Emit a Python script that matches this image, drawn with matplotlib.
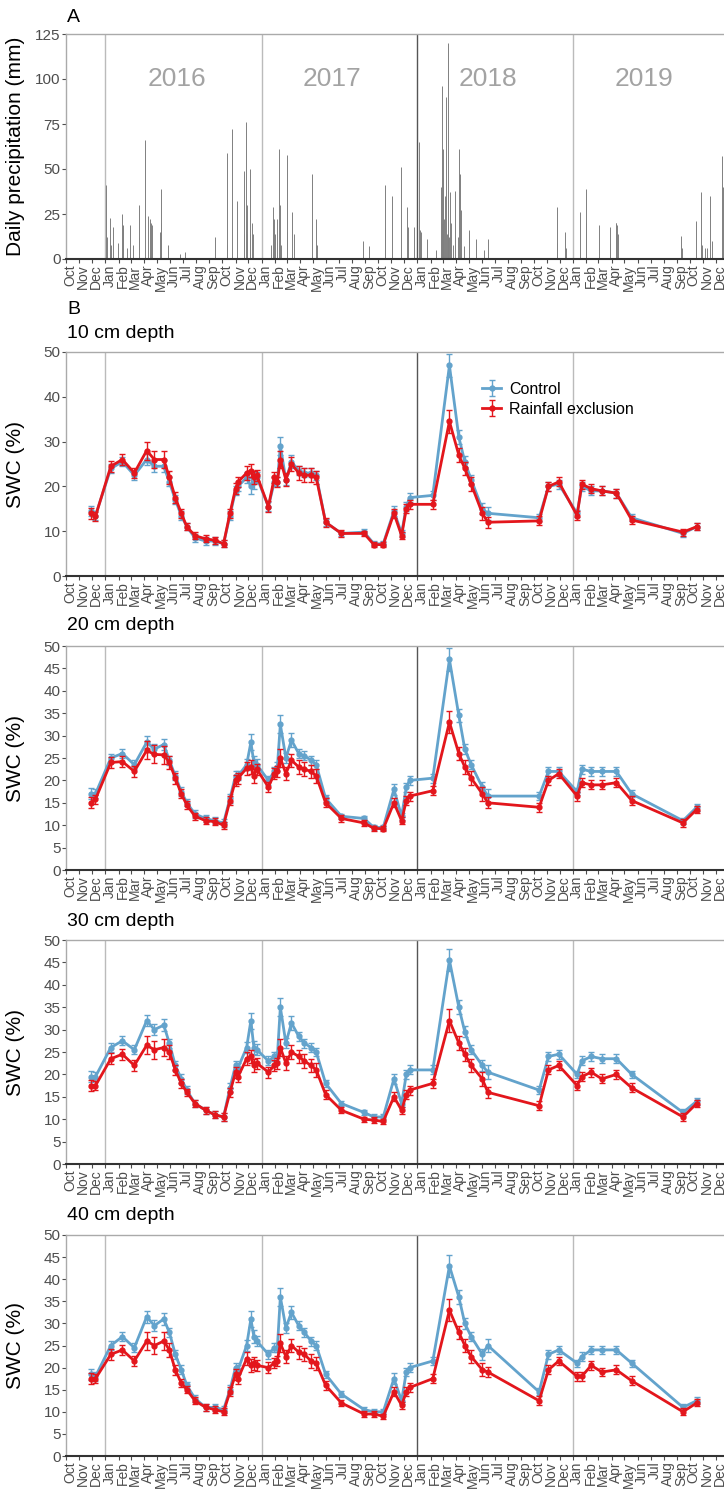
import matplotlib
matplotlib.use("Agg")
import matplotlib.pyplot as plt
import matplotlib.dates as mdates
import matplotlib.transforms as mtransforms
import pandas as pd

plt.rcParams['font.family'] = ['Liberation Sans', 'DejaVu Sans']

# daily precipitation (mm), only rain days
rain_dates = ["2016-01-02", "2016-01-04", "2016-01-11", "2016-01-14", "2016-01-20", "2016-01-30",
              "2016-02-10", "2016-02-11", "2016-02-12", "2016-02-20", "2016-02-27", "2016-03-06",
              "2016-03-19", "2016-03-20", "2016-04-03", "2016-04-11", "2016-04-14", "2016-04-18",
              "2016-04-20", "2016-05-08", "2016-05-10", "2016-05-11", "2016-05-28", "2016-06-25",
              "2016-07-05", "2016-09-13", "2016-10-12", "2016-10-13", "2016-10-24", "2016-11-04",
              "2016-11-20", "2016-11-22", "2016-11-25", "2016-11-27", "2016-11-29", "2016-12-04",
              "2016-12-05", "2016-12-10", "2016-12-12", "2017-01-22", "2017-01-27", "2017-01-31",
              "2017-02-02", "2017-02-07", "2017-02-12", "2017-02-13", "2017-02-16", "2017-03-01",
              "2017-03-02", "2017-03-14", "2017-03-18", "2017-04-28", "2017-05-09", "2017-05-10",
              "2017-08-27", "2017-09-10", "2017-10-17", "2017-10-18", "2017-11-03", "2017-11-23",
              "2017-12-08", "2017-12-10", "2017-12-24", "2018-01-05", "2018-01-07", "2018-01-10",
              "2018-01-24", "2018-02-14", "2018-02-26", "2018-02-27", "2018-02-28", "2018-03-01",
              "2018-03-02", "2018-03-03", "2018-03-05", "2018-03-07", "2018-03-09", "2018-03-11",
              "2018-03-13", "2018-03-14", "2018-03-16", "2018-03-18", "2018-03-20", "2018-03-25",
              "2018-03-29", "2018-04-05", "2018-04-09", "2018-04-10", "2018-04-12", "2018-04-20",
              "2018-05-01", "2018-05-03", "2018-05-18", "2018-06-05", "2018-06-15", "2018-11-23",
              "2018-11-24", "2018-12-12", "2018-12-14", "2019-01-16", "2019-01-30", "2019-01-31",
              "2019-03-03", "2019-03-27", "2019-03-28", "2019-04-11", "2019-04-12", "2019-04-14",
              "2019-04-16", "2019-09-11", "2019-09-13", "2019-10-16", "2019-10-27", "2019-10-29",
              "2019-11-05", "2019-11-10", "2019-11-18", "2019-11-22", "2019-12-16", "2019-12-17"]
rain_mm = [41, 12, 23, 8, 18, 9,
           25, 19, 17, 6, 19, 8,
           12, 30, 66, 24, 22, 20,
           19, 15, 39, 20, 8, 3,
           4, 12, 59, 8, 72, 32,
           49, 14, 76, 30, 14, 50,
           14, 20, 14, 8, 29, 22,
           14, 22, 61, 30, 8, 58,
           15, 26, 14, 47, 22, 8,
           10, 7, 41, 17, 35, 51,
           29, 18, 18, 65, 16, 15,
           11, 5, 40, 20, 96, 61,
           45, 30, 22, 35, 90, 14,
           120, 38, 12, 37, 20, 8,
           38, 12, 61, 47, 27, 7,
           15, 16, 11, 5, 11, 29,
           9, 15, 6, 26, 39, 20,
           19, 9, 18, 20, 20, 19,
           14, 13, 6, 21, 37, 8,
           6, 6, 35, 10, 57, 40]

# soil water content sampling dates
swc_dates = ["2015-11-28", "2015-12-09", "2016-01-14", "2016-02-10", "2016-03-09", "2016-04-07",
             "2016-04-25", "2016-05-17", "2016-05-30", "2016-06-13", "2016-06-27", "2016-07-10",
             "2016-07-29", "2016-08-23", "2016-09-13", "2016-10-04", "2016-10-19", "2016-11-01",
             "2016-11-07", "2016-11-27", "2016-12-07", "2016-12-14", "2016-12-21", "2017-01-17",
             "2017-01-31", "2017-02-07", "2017-02-14", "2017-02-27", "2017-03-12", "2017-03-29",
             "2017-04-11", "2017-04-27", "2017-05-09", "2017-05-31", "2017-07-07", "2017-08-29",
             "2017-09-21", "2017-10-13", "2017-11-07", "2017-11-25", "2017-12-06", "2017-12-14",
             "2018-02-06", "2018-03-17", "2018-04-08", "2018-04-22", "2018-05-07", "2018-06-02",
             "2018-06-15", "2018-10-13", "2018-11-04", "2018-11-28", "2019-01-10", "2019-01-21",
             "2019-02-12", "2019-03-09", "2019-04-12", "2019-05-18", "2019-09-15", "2019-10-17"]

ctrl_10 = [14.5, 13.5, 24, 25.5, 22.5, 26, 24.5, 24.5, 21, 17, 13.5, 11,
           8.5, 7.8, 7.8, 7.2, 13.5, 19, 20, 22, 20, 21, 22, 15.5,
           21, 21, 29, 21.5, 25.5, 23.5, 23, 23, 22.5, 12, 9.5, 9.8,
           7.2, 7.2, 14.5, 9.5, 15.5, 17.5, 18, 47, 31, 25.5, 21.5, 15,
           14, 13, 20, 20.5, 14, 20, 19, 19, 18.5, 13, 9.5, 11]
excl_10 = [14, 13.3, 24.5, 26, 23, 28, 26, 26, 22, 17.5, 14, 11,
           9, 8.3, 8, 7.2, 14, 19.5, 21, 23, 23.5, 22, 22.5, 15.5,
           22, 21, 26, 21.5, 25, 23, 22.5, 22.5, 22, 12, 9.5, 9.5,
           7, 7, 14, 9, 15, 16, 16, 34.5, 27, 24, 20.5, 14,
           12, 12.3, 20, 21, 13.5, 20.5, 19.5, 19, 18.5, 12.5, 9.8, 11]

ctrl_20 = [17, 17, 25, 26, 23.5, 28.5, 27, 28, 24.5, 21, 17.5, 15,
           12.5, 11.5, 11, 10.5, 16, 21, 21, 23.5, 28.5, 24, 23.5, 20,
           22, 23, 32.5, 25, 29, 26, 25.5, 24.5, 23.5, 16, 12, 11.5,
           9.5, 9.5, 18, 12, 18.5, 20, 20.5, 47, 34.5, 27, 23.5, 18.5,
           16.5, 16.5, 22, 22, 17.5, 22.5, 22, 22, 22, 17, 11, 14]
excl_20 = [15, 15.8, 24, 24.2, 22, 26.7, 25.8, 25.7, 24, 20.5, 17, 14.5,
           12, 11, 10.8, 10, 15.5, 20, 20.5, 22.7, 23, 21, 22.5, 18.5,
           21.5, 22, 25, 21.5, 24.5, 23, 22.5, 22, 21, 15, 11.5, 10.5,
           9.3, 9.2, 15, 11, 15.5, 16.5, 17.7, 33, 26, 23, 20.5, 17,
           15, 14, 20, 21.5, 16.5, 19.5, 19, 19, 19.5, 15.5, 10.5, 13.5]

ctrl_30 = [19.5, 19.5, 26, 27.5, 25.5, 32, 30, 31, 27, 22, 19, 16.5,
           13.5, 12, 11, 10.5, 17, 22, 21.5, 26, 32, 26, 25.5, 23,
           24, 24, 35, 27, 31.5, 28.5, 27, 26, 25, 18, 13.5, 11.5,
           10.5, 10.5, 19, 13.5, 20, 21, 21, 45.5, 35, 29.5, 25.5, 22,
           20.5, 16.5, 24, 24.5, 20, 23, 24, 23.5, 23.5, 20, 11.5, 14]
excl_30 = [17.5, 17.5, 23.5, 24.5, 22, 26.5, 25.5, 26, 25, 21, 18, 16,
           13.5, 12, 11, 10.5, 16, 20.5, 19.5, 23.5, 24, 22, 22.5, 20.5,
           22, 22.5, 26, 22.5, 25, 24, 23, 22, 21, 15.5, 12, 10,
           9.8, 9.5, 15, 12, 15.5, 16.5, 18, 32, 27, 24.5, 22, 19,
           16, 13, 21, 22, 17.5, 19.5, 20.5, 19, 20, 17, 10.5, 13.5]

ctrl_40 = [18.5, 18, 25, 27, 24.5, 31.5, 29.5, 31, 28, 23, 19.5, 16,
           13, 11, 11, 10.5, 15, 20, 19.5, 25, 31, 27, 26, 23,
           24.5, 24.5, 36, 29, 32.5, 29.5, 28, 26, 25, 18.5, 14, 10.5,
           10, 10, 17.5, 12.5, 19, 20, 21.5, 43, 36, 30, 27, 23,
           25, 14.5, 23, 24, 21, 22.5, 24, 24, 24, 21, 11, 12.5]
excl_40 = [17.5, 17.5, 23, 24, 21.5, 26, 25, 26, 24, 19.5, 16.5, 15,
           12.5, 11, 10.5, 10, 14.5, 18.5, 17.5, 22, 20.5, 21, 20.5, 20,
           21, 21.5, 25.5, 22.5, 25, 23.5, 23, 21.5, 21, 16, 12, 9.5,
           9.5, 9, 14.5, 11.5, 14.5, 15.5, 17.5, 33, 28, 25, 22.5, 19.5,
           19, 12.5, 19.5, 21.5, 18, 18, 20.5, 19, 19.5, 17, 10, 12]

# standard errors
se_ctrl = [1.2, 1.0, 1.0, 1.0, 1.0, 1.3, 1.2, 1.3, 1.0, 1.0, 1.0, 0.8,
           0.8, 0.8, 0.8, 0.8, 1.0, 1.0, 1.0, 1.2, 1.8, 1.5, 1.2, 1.0,
           1.0, 1.0, 2.0, 1.2, 1.5, 1.0, 1.0, 1.0, 1.0, 0.8, 0.6, 0.6,
           0.6, 0.6, 1.2, 0.8, 1.0, 1.0, 1.0, 2.5, 1.5, 1.2, 1.0, 1.2,
           1.5, 0.8, 1.0, 1.0, 0.8, 1.0, 1.0, 1.0, 1.0, 0.8, 0.7, 0.8]
se_excl = [1.2, 1.0, 1.2, 1.2, 1.2, 2.0, 2.0, 2.0, 1.5, 1.2, 1.0, 0.8,
           0.8, 0.8, 0.8, 0.8, 1.0, 1.2, 1.2, 1.5, 1.5, 1.5, 1.2, 1.2,
           1.2, 1.2, 2.0, 1.5, 1.5, 1.5, 1.5, 1.5, 1.5, 1.0, 0.7, 0.6,
           0.6, 0.6, 1.0, 0.8, 1.0, 1.0, 1.0, 2.5, 1.5, 1.5, 1.5, 1.5,
           1.2, 1.0, 1.0, 1.0, 1.0, 1.0, 1.0, 1.0, 1.0, 1.0, 0.8, 0.8]

depths = ["10 cm depth", "20 cm depth", "30 cm depth", "40 cm depth"]
ctrl_all = [ctrl_10, ctrl_20, ctrl_30, ctrl_40]
excl_all = [excl_10, excl_20, excl_30, excl_40]
year_lines = ["2016-01-01", "2017-01-01", "2018-01-01", "2019-01-01"]
year_names = ["2016", "2017", "2018", "2019"]
year_mid = ["2016-07-01", "2017-07-01", "2018-07-01", "2019-07-01"]

blue = "#63a3cc"
red = "#e3161c"
grey_txt = "#4d4d4d"

W, H = 724, 1491
fig = plt.figure(figsize=(W / 100, H / 100), dpi=100)

x0 = pd.Timestamp("2015-10-01")
x1 = pd.Timestamp("2020-01-16")
month_ticks = pd.date_range("2015-10-01", "2019-12-01", freq="MS")
left = 66 / W
width = (735.5 - 66) / W


def setup_axis(ax, ymax, ystep):
    ax.set_xlim(x0, x1)
    ax.set_ylim(0, ymax)
    ax.set_yticks(range(0, ymax + 1, ystep))
    ax.set_xticks(month_ticks)
    ax.xaxis.set_major_formatter(mdates.DateFormatter("%b"))
    ax.tick_params(axis="x", labelrotation=90, labelsize=10, colors=grey_txt, length=3, pad=1)
    ax.tick_params(axis="y", labelsize=11, colors=grey_txt, length=3, pad=1)
    offset = mtransforms.ScaledTranslation(4 / 100, 0, fig.dpi_scale_trans)
    for lab in ax.get_xticklabels():
        lab.set_transform(lab.get_transform() + offset)
    for s in ["top", "left"]:
        ax.spines[s].set_color("#aaaaaa")
        ax.spines[s].set_linewidth(1)
    ax.spines["right"].set_visible(False)
    ax.spines["bottom"].set_color("#333333")
    ax.spines["bottom"].set_linewidth(1.5)
    for i, d in enumerate(year_lines):
        col = "#555555" if i == 2 else "#bbbbbb"
        ax.axvline(pd.Timestamp(d), color=col, lw=1, zorder=1)


def axes_box(top_px, bottom_px):
    return [left, 1 - bottom_px / H, width, (bottom_px - top_px) / H]


# ---- panel A: precipitation ----
axA = fig.add_axes(axes_box(34, 259))
setup_axis(axA, 125, 25)
axA.vlines(pd.to_datetime(rain_dates), 0, rain_mm, color="#808080", lw=0.7, zorder=2)
for name, mid in zip(year_names, year_mid):
    axA.text(pd.Timestamp(mid) - pd.Timedelta(days=15), 100, name, fontsize=19,
             color="#a3a3a3", ha="center", va="center")
axA.set_ylabel("Daily precipitation (mm)", fontsize=15, labelpad=2)
axA.yaxis.set_label_coords(-0.061, 0.5)
fig.text(67 / W, 1 - 18 / H, "A", fontsize=14, va="center")
fig.text(67 / W, 1 - 310 / H, "B", fontsize=14, va="center")

# ---- panel B: soil water content ----
boxes = [(352, 576), (646, 870), (940, 1164), (1235, 1456)]
title_y = [333, 626, 921, 1216]
sd = pd.to_datetime(swc_dates)
for k in range(4):
    ax = fig.add_axes(axes_box(*boxes[k]))
    if k == 0:
        setup_axis(ax, 50, 10)
    else:
        setup_axis(ax, 50, 5)
    ax.errorbar(sd, ctrl_all[k], yerr=se_ctrl, color=blue, lw=2, marker="o", ms=3.5,
                capsize=2.5, elinewidth=1, label="Control", zorder=3)
    ax.errorbar(sd, excl_all[k], yerr=se_excl, color=red, lw=2, marker="o", ms=3.5,
                capsize=2.5, elinewidth=1, label="Rainfall exclusion", zorder=4)
    ax.set_ylabel("SWC (%)", fontsize=15)
    ax.yaxis.set_label_coords(-0.061, 0.5)
    fig.text(67 / W, 1 - title_y[k] / H, depths[k], fontsize=14, va="center")
    if k == 0:
        ax.legend(loc="upper left", bbox_to_anchor=(0.6, 0.93), frameon=False,
                  fontsize=11.5, handlelength=1.2, handletextpad=0.5, labelspacing=0.3)

fig.savefig("out.png", dpi=100)
